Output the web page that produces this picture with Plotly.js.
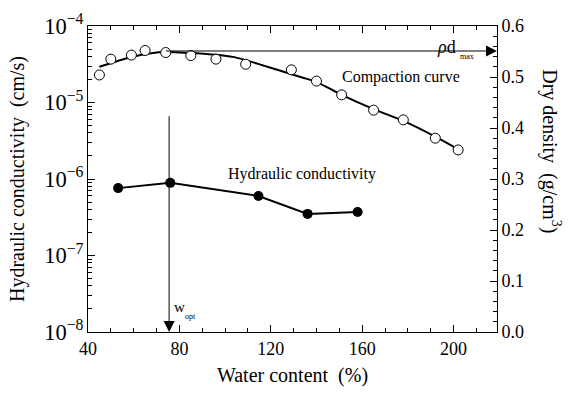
<!DOCTYPE html>
<html><head><meta charset="utf-8">
<script src="https://cdn.plot.ly/plotly-3.0.1.min.js"></script>
<style>html,body{margin:0;padding:0;background:#fff}#c{width:569px;height:396px}</style>
</head><body><div id="c"></div>
<script>
// Compaction test points (open circles): water content (%) vs dry density (g/cm3)
const wcCirc = [45, 50, 59, 65, 74, 85, 96, 109, 129, 140, 151, 165, 178, 192, 202];
const rhoCirc = [0.504, 0.535, 0.543, 0.552, 0.548, 0.542, 0.535, 0.525, 0.514, 0.492, 0.465, 0.435, 0.416, 0.380, 0.357];
// Fitted compaction curve
const wcFit = [45, 54, 63, 73, 85, 92, 104, 118.5, 133, 140, 151, 165, 178, 192, 202];
const rhoFit = [0.520, 0.533, 0.543, 0.549, 0.547, 0.545, 0.539, 0.520, 0.500, 0.490, 0.465, 0.437, 0.414, 0.383, 0.358];
// Hydraulic conductivity (cm/s)
const wcK = [53.2, 76.0, 114.6, 136.1, 158.0];
const kVals = [7.6e-7, 8.9e-7, 6.0e-7, 3.5e-7, 3.7e-7];
// Optimum water content and maximum dry density
const wOpt = 75.5;
const rhoMax = 0.551;
const xTickVals = [40, 80, 120, 160, 200];

const FONT = 'Liberation Serif, Times New Roman, serif';

const traces = [
  {x: wcFit, y: rhoFit, yaxis: 'y2', mode: 'lines', line: {color: '#000', width: 2, shape: 'spline'}, hoverinfo: 'skip'},
  {x: wcCirc, y: rhoCirc, yaxis: 'y2', mode: 'markers', marker: {symbol: 'circle', size: 10, color: '#fff', line: {color: '#000', width: 1}}},
  {x: wcK, y: kVals, mode: 'lines+markers', line: {color: '#000', width: 2}, marker: {symbol: 'circle', size: 10, color: '#000'}}
];

const layout = {
  width: 569, height: 396,
  margin: {l: 88, r: 72, t: 26, b: 64},
  paper_bgcolor: '#fff', plot_bgcolor: '#fff',
  showlegend: false,
  font: {family: FONT, color: '#000', size: 18},
  xaxis: {
    range: [40, 219], tickvals: xTickVals, ticks: 'inside', ticklen: 7, tickwidth: 1, tickcolor: '#000',
    minor: {dtick: 10, tick0: 40, ticks: 'inside', ticklen: 4, tickcolor: '#000'},
    showline: true, linecolor: '#000', linewidth: 1, mirror: 'ticks', showgrid: false, zeroline: false,
    tickfont: {size: 18, family: FONT},
    title: {text: 'Water content  (%)', font: {size: 20, family: FONT}, standoff: 10}
  },
  yaxis: {
    type: 'log', range: [-8, -4], dtick: 1, exponentformat: 'power', showexponent: 'all',
    ticks: 'inside', ticklen: 7, tickcolor: '#000',
    minor: {ticks: 'inside', ticklen: 4, tickcolor: '#000'},
    showline: true, linecolor: '#000', linewidth: 1, showgrid: false, zeroline: false,
    tickfont: {size: 18, family: FONT},
    title: {text: 'Hydraulic conductivity  (cm/s)', font: {size: 20, family: FONT}, standoff: 14}
  },
  yaxis2: {
    overlaying: 'y', side: 'right', range: [0, 0.6], dtick: 0.1, tickformat: '.1f',
    ticks: 'inside', ticklen: 7, tickcolor: '#000',
    minor: {dtick: 0.02, ticks: 'inside', ticklen: 4, tickcolor: '#000'},
    showline: true, linecolor: '#000', linewidth: 1, showgrid: false, zeroline: false,
    tickfont: {size: 18, family: FONT}
  },
  annotations: [
    // vertical arrow at optimum water content
    {x: wOpt, y: -8, xref: 'x', yref: 'y', ax: wOpt, ay: -5.16, axref: 'x', ayref: 'y',
     showarrow: true, arrowhead: 2, arrowsize: 2.2, arrowwidth: 1, arrowcolor: '#000', standoff: 0, text: ''},
    // horizontal arrow at maximum dry density
    {x: 219, y: rhoMax, xref: 'x', yref: 'y2', ax: 73.5, ay: rhoMax, axref: 'x', ayref: 'y2',
     showarrow: true, arrowhead: 2, arrowsize: 2.2, arrowwidth: 1, arrowcolor: '#000', standoff: 0, text: ''},
    {x: 177, y: 0.5, xref: 'x', yref: 'y2', text: 'Compaction curve', showarrow: false, font: {size: 16, family: FONT, color: '#000'}},
    {x: 0.523, y: 0.516, xref: 'paper', yref: 'paper', text: 'Hydraulic conductivity', showarrow: false, font: {size: 16, family: FONT, color: '#000'}},
    {x: 0.905, y: 0.972, xref: 'paper', yref: 'paper', text: '<i>ρ</i>d', showarrow: false, font: {size: 18, family: FONT, color: '#000'}},
    {x: 0.948, y: 0.92, xref: 'paper', yref: 'paper', text: 'max', showarrow: false, font: {size: 8, family: FONT, color: '#000'}},
    {x: 0.205, y: 0.05, xref: 'paper', yref: 'paper', text: 'w', showarrow: false, font: {size: 15, family: FONT, color: '#000'}},
    {x: 0.232, y: 0.028, xref: 'paper', yref: 'paper', text: 'opt', showarrow: false, font: {size: 8, family: FONT, color: '#000'}},
    {x: 1.168, y: 0.59, xref: 'paper', yref: 'paper', text: 'Dry density  (g/cm<sup>3</sup>)', textangle: 90,
     showarrow: false, font: {size: 20, family: FONT, color: '#000'}}
  ]
};

Plotly.newPlot('c', traces, layout, {displayModeBar: false, staticPlot: true});
</script></body></html>
